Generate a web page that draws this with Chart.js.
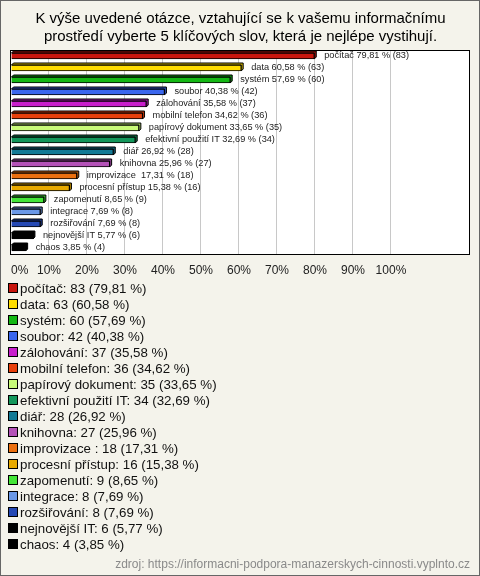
<!DOCTYPE html>
<html>
<head>
<meta charset="utf-8">
<script src="https://cdn.jsdelivr.net/npm/chart.js@4/dist/chart.umd.min.js"></script>
<style>
  html, body { margin: 0; padding: 0; background: #f4f3eb; }
  canvas { display: block; }
</style>
</head>
<body>
<canvas id="c" width="480" height="576" style="width:480px;height:576px"></canvas>
<script>
const titleLines = [
  "K výše uvedené otázce, vztahující se k vašemu informačnímu",
  "prostředí vyberte 5 klíčových slov, která je nejlépe vystihují."
];
const categories = [
  "počítač", "data", "systém", "soubor", "zálohování", "mobilní telefon",
  "papírový dokument", "efektivní použití IT", "diář", "knihovna",
  "improvizace ", "procesní přístup", "zapomenutí", "integrace",
  "rozšiřování", "nejnovější IT", "chaos"
];
const counts = [83, 63, 60, 42, 37, 36, 35, 34, 28, 27, 18, 16, 9, 8, 8, 6, 4];
const percents = [79.81, 60.58, 57.69, 40.38, 35.58, 34.62, 33.65, 32.69, 26.92, 25.96, 17.31, 15.38, 8.65, 7.69, 7.69, 5.77, 3.85];
const colors = [
  "#c8160e", "#ffdd00", "#14b814", "#3a66ee", "#c81ecc", "#e8400c",
  "#c8fa78", "#12965a", "#137a96", "#b452b8", "#ec7010", "#e8aa00",
  "#44e638", "#6a98e8", "#2448b4", "#000000", "#000000"
];
const tickValues = [0, 10, 20, 30, 40, 50, 60, 70, 80, 90, 100];
const axisMax = 120.8;
const sourceText = "zdroj: https://informacni-podpora-manazerskych-cinnosti.vyplnto.cz";

const FONT = "'Liberation Sans', Arial, sans-serif";
const fmt = v => v.toFixed(2).replace('.', ',');
const DEPTH = 2;

function shade(hex, f) {
  const n = parseInt(hex.slice(1), 16);
  let r = (n >> 16) & 255, g = (n >> 8) & 255, b = n & 255;
  r = Math.round(r * f); g = Math.round(g * f); b = Math.round(b * f);
  return `rgb(${r},${g},${b})`;
}

const decor = {
  id: 'decor',
  beforeDraw(chart) {
    const { ctx, chartArea: a } = chart;
    ctx.save();
    ctx.fillStyle = '#f4f3eb';
    ctx.fillRect(0, 0, chart.width, chart.height);
    ctx.fillStyle = '#ffffff';
    ctx.fillRect(a.left, a.top, a.right - a.left, a.bottom - a.top);
    ctx.restore();
  },
  beforeDatasetsDraw(chart) {
    const { ctx } = chart;
    const meta = chart.getDatasetMeta(0);
    ctx.save();
    ctx.lineWidth = 1;
    ctx.strokeStyle = '#000';
    meta.data.forEach((el, i) => {
      const p = el.getProps(['x', 'y', 'base', 'height'], true);
      const top = p.y - p.height / 2, bot = p.y + p.height / 2;
      ctx.fillStyle = shade(colors[i], 0.75);
      ctx.beginPath();
      ctx.moveTo(p.base, top);
      ctx.lineTo(p.base + DEPTH, top - DEPTH);
      ctx.lineTo(p.x + DEPTH, top - DEPTH);
      ctx.lineTo(p.x + DEPTH, bot - DEPTH);
      ctx.lineTo(p.x, bot);
      ctx.lineTo(p.x, top);
      ctx.closePath();
      ctx.fill();
      ctx.stroke();
    });
    ctx.restore();
  },
  afterDraw(chart) {
    const { ctx, chartArea: a } = chart;
    const meta = chart.getDatasetMeta(0);
    ctx.save();
    // plot border
    ctx.strokeStyle = '#000';
    ctx.lineWidth = 1;
    ctx.strokeRect(Math.round(a.left) - 0.5, Math.round(a.top) + 0.5, Math.round(a.right - a.left), Math.round(a.bottom - a.top));
    // bar labels
    ctx.font = `9.2px ${FONT}`;
    ctx.fillStyle = '#222';
    ctx.textBaseline = 'middle';
    ctx.textAlign = 'left';
    meta.data.forEach((el, i) => {
      const p = el.getProps(['x', 'y'], true);
      ctx.fillText(`${categories[i]} ${fmt(percents[i])} % (${counts[i]})`, p.x + 10, p.y - 0.5);
    });
    // legend
    const ly0 = 288, lstep = 16;
    ctx.font = `13.3px ${FONT}`;
    categories.forEach((c, i) => {
      const cy = ly0 + i * lstep;
      ctx.fillStyle = colors[i];
      ctx.fillRect(9, cy - 4, 8, 8);
      ctx.strokeStyle = '#000';
      ctx.strokeRect(8.5, cy - 4.5, 9, 9);
      ctx.fillStyle = '#111';
      ctx.fillText(`${c}: ${counts[i]} (${fmt(percents[i])} %)`, 20, cy + 1);
    });
    // source
    ctx.font = `12px ${FONT}`;
    ctx.fillStyle = '#8a8a8a';
    ctx.textAlign = 'right';
    ctx.fillText(sourceText, 470, 565);
    // outer border
    ctx.strokeStyle = '#666';
    ctx.strokeRect(0.5, 0.5, chart.width - 1, chart.height - 1);
    ctx.restore();
  }
};

new Chart(document.getElementById('c'), {
  type: 'bar',
  data: {
    labels: categories,
    datasets: [{
      data: percents,
      backgroundColor: colors,
      borderColor: '#000',
      borderWidth: 1,
      barThickness: 6
    }]
  },
  options: {
    indexAxis: 'y',
    responsive: false,
    devicePixelRatio: 1,
    animation: false,
    layout: { padding: { left: 11, right: 10, top: 0, bottom: 0 } },
    plugins: {
      legend: { display: false },
      tooltip: { enabled: false },
      title: {
        display: true,
        text: titleLines,
        color: '#000',
        font: { family: FONT, size: 15, weight: 'normal' },
        padding: { top: 10, bottom: 4 }
      }
    },
    scales: {
      x: {
        min: 0,
        max: axisMax,
        afterBuildTicks: s => { s.ticks = tickValues.concat([axisMax]).map(v => ({ value: v })); },
        afterFit: s => { s.height = 322; },
        ticks: {
          autoSkip: false,
          maxRotation: 0,
          align: 'inner',
          padding: 9,
          color: '#222',
          font: { family: FONT, size: 12 },
          callback: v => (v <= 100 ? v + '%' : '')
        },
        grid: {
          drawTicks: false,
          color: c => (c.tick && c.tick.value > 0 && c.tick.value <= 100) ? '#c8c8c8' : 'rgba(0,0,0,0)'
        },
        border: { display: false }
      },
      y: { display: false }
    }
  },
  plugins: [decor]
});
</script>
</body>
</html>
